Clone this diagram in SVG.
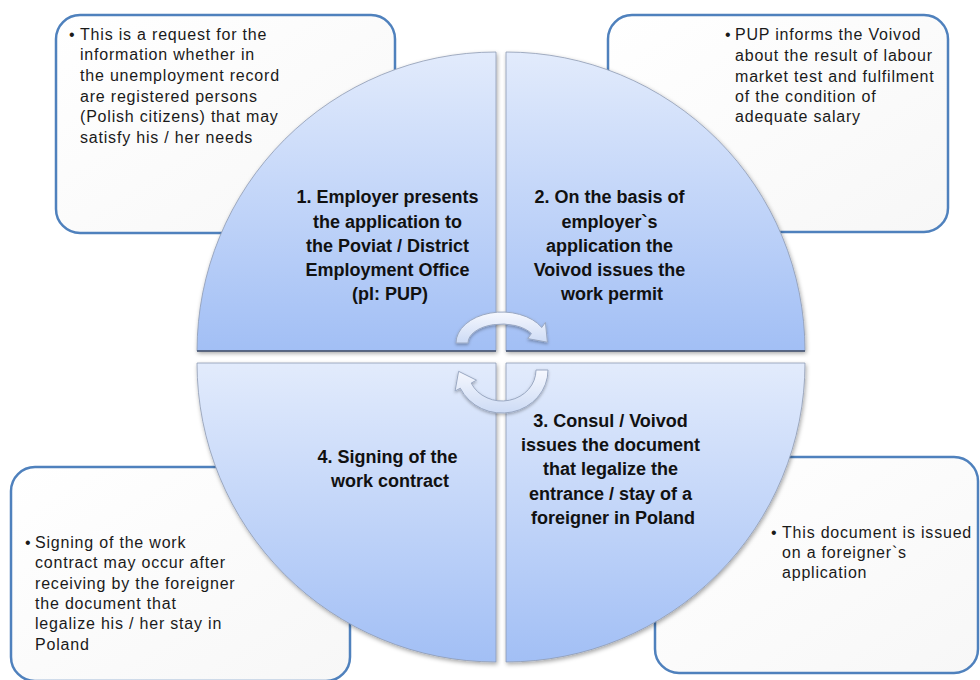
<svg xmlns="http://www.w3.org/2000/svg" width="980" height="680" viewBox="0 0 980 680">
  <defs>
    <linearGradient id="gTop" gradientUnits="userSpaceOnUse" x1="0" y1="52" x2="0" y2="351">
      <stop offset="0" stop-color="#e2ebfc"/>
      <stop offset="1" stop-color="#a2bff5"/>
    </linearGradient>
    <linearGradient id="gBot" gradientUnits="userSpaceOnUse" x1="0" y1="363" x2="0" y2="662">
      <stop offset="0" stop-color="#e2ebfc"/>
      <stop offset="1" stop-color="#a2bff5"/>
    </linearGradient>
    <linearGradient id="gBox" x1="0" y1="0" x2="1" y2="1">
      <stop offset="0" stop-color="#ffffff"/>
      <stop offset="1" stop-color="#f7f7f7"/>
    </linearGradient>
    <linearGradient id="gArrow" x1="0" y1="0" x2="0" y2="1">
      <stop offset="0" stop-color="#f6f8fe"/>
      <stop offset="1" stop-color="#cddbf5"/>
    </linearGradient>
    <filter id="shadow" x="-10%" y="-10%" width="120%" height="120%">
      <feDropShadow dx="1" dy="2" stdDeviation="2" flood-color="#000" flood-opacity="0.35"/>
    </filter>
    <filter id="ashadow" x="-20%" y="-20%" width="140%" height="140%">
      <feDropShadow dx="0" dy="1.5" stdDeviation="1.5" flood-color="#000" flood-opacity="0.3"/>
    </filter>
  </defs>
  <style>
    .box { fill: url(#gBox); stroke: #4f81bd; stroke-width: 2.5; }
    .btxt { font-family: "Liberation Sans", Arial, sans-serif; font-size: 16px; fill: #1a1a1a; letter-spacing: 0.8px; }
    .ctxt { font-family: "Liberation Sans", Arial, sans-serif; font-size: 18px; font-weight: bold; fill: #111; text-anchor: middle; }
    .qt { fill: url(#gTop); stroke: #8e9bb3; stroke-width: 0.8; filter: url(#shadow); }
    .qb { fill: url(#gBot); stroke: #8e9bb3; stroke-width: 0.8; filter: url(#shadow); }
    .arrow { fill: url(#gArrow); stroke: #9aa8c2; stroke-width: 1; filter: url(#ashadow); }
  </style>

  <rect width="980" height="680" fill="#ffffff"/>

  <g id="box1">
    <rect class="box" x="56" y="15" width="339" height="218" rx="24"/>
    <text class="btxt" x="69" y="40">•</text>
    <text class="btxt">
      <tspan x="80" y="40">This is a request for the</tspan>
      <tspan x="80" y="60">information whether in</tspan>
      <tspan x="80" y="81">the unemployment record</tspan>
      <tspan x="80" y="102">are registered persons</tspan>
      <tspan x="80" y="122">(Polish citizens) that may</tspan>
      <tspan x="80" y="143">satisfy his / her needs</tspan>
    </text>
  </g>

  <g id="box2">
    <rect class="box" x="608" y="15" width="340" height="217" rx="24"/>
    <text class="btxt" x="725" y="40">•</text>
    <text class="btxt">
      <tspan x="735" y="40">PUP informs the Voivod</tspan>
      <tspan x="735" y="61">about the result of labour</tspan>
      <tspan x="735" y="82">market test and fulfilment</tspan>
      <tspan x="735" y="102">of the condition of</tspan>
      <tspan x="735" y="122">adequate salary</tspan>
    </text>
  </g>

  <g id="box3">
    <rect class="box" x="11" y="467" width="339" height="214" rx="24"/>
    <text class="btxt" x="25" y="548">•</text>
    <text class="btxt">
      <tspan x="35" y="548">Signing of the work</tspan>
      <tspan x="35" y="568">contract may occur after</tspan>
      <tspan x="35" y="589">receiving by the foreigner</tspan>
      <tspan x="35" y="609">the document that</tspan>
      <tspan x="35" y="629">legalize his / her stay in</tspan>
      <tspan x="35" y="650">Poland</tspan>
    </text>
  </g>

  <g id="box4">
    <rect class="box" x="655" y="457" width="323" height="216" rx="24"/>
    <text class="btxt" x="771" y="538">•</text>
    <text class="btxt">
      <tspan x="782" y="538">This document is issued</tspan>
      <tspan x="782" y="558">on a foreigner`s</tspan>
      <tspan x="782" y="578">application</tspan>
    </text>
  </g>

  <g id="q1">
    <path class="qt" d="M496,351 L496,52 A299,299 0 0 0 197,351 Z"/>
    <line x1="197" y1="351" x2="496" y2="351" stroke="#3e4c68" stroke-width="1.5"/>
    <text class="ctxt">
      <tspan x="390" y="203">1. Employer presents</tspan>
      <tspan x="390" y="228">the application to</tspan>
      <tspan x="390" y="252">the Poviat / District</tspan>
      <tspan x="390" y="276">Employment Office</tspan>
      <tspan x="390" y="300">(pl: PUP)</tspan>
    </text>
  </g>

  <g id="q2">
    <path class="qt" d="M506,351 L506,52 A299,299 0 0 1 805,351 Z"/>
    <line x1="506" y1="351" x2="805" y2="351" stroke="#3e4c68" stroke-width="1.5"/>
    <text class="ctxt">
      <tspan x="612" y="203">2. On the basis of</tspan>
      <tspan x="612" y="228">employer`s</tspan>
      <tspan x="612" y="252">application the</tspan>
      <tspan x="612" y="276">Voivod issues the</tspan>
      <tspan x="612" y="300">work permit</tspan>
    </text>
  </g>

  <g id="q3">
    <path class="qb" d="M506,363 L805,363 A299,299 0 0 1 506,662 Z"/>
    <text class="ctxt">
      <tspan x="613" y="427">3. Consul / Voivod</tspan>
      <tspan x="613" y="451">issues the document</tspan>
      <tspan x="613" y="475">that legalize the</tspan>
      <tspan x="613" y="500">entrance / stay of a</tspan>
      <tspan x="613" y="524">foreigner in Poland</tspan>
    </text>
  </g>

  <g id="q4">
    <path class="qb" d="M496,363 L197,363 A299,299 0 0 0 496,662 Z"/>
    <text class="ctxt">
      <tspan x="390" y="463">4. Signing of the</tspan>
      <tspan x="390" y="487">work contract</tspan>
    </text>
  </g>

  <g id="connectors">
    <path class="arrow" d="M456,343 A46,31 0 0 1 541.8,327.5 L545.4,322.4 L547.4,342.2 L527.8,338.6 L531.4,333.5 A34,19 0 0 0 468,343 Z"/>
    <path class="arrow" d="M548,370 A46,43 0 0 1 460.3,388.2 L455.1,391 L458.6,371.3 L476.5,380.2 L471.2,383.1 A34,31 0 0 0 536,370 Z"/>
  </g>
</svg>
